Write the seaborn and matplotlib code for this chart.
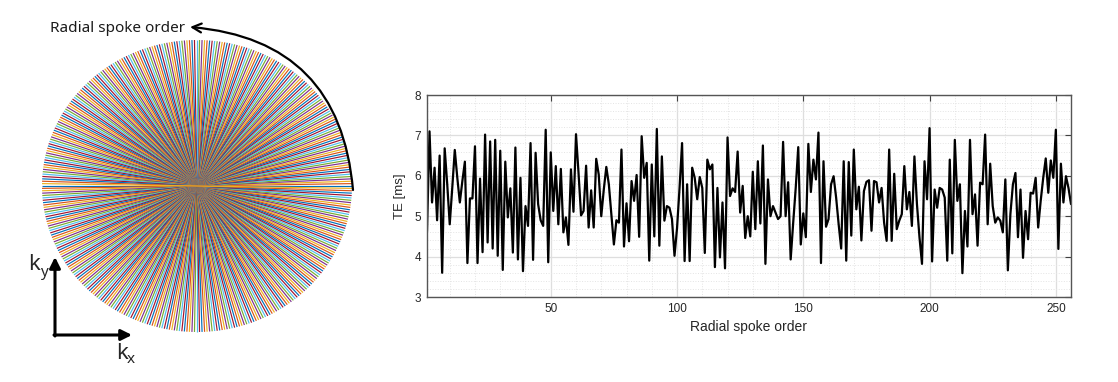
import numpy as np
import pandas as pd
import matplotlib
matplotlib.use("Agg")
import matplotlib.pyplot as plt
import seaborn as sns
from matplotlib.collections import LineCollection
from matplotlib.ticker import MultipleLocator

# ---------------- data ----------------
n_diagram_spokes = 192
spoke_order = list(range(1, 257))
te_ms = [
    4.62, 7.10, 5.34, 6.20, 4.90, 6.50, 3.60, 6.68, 5.80, 4.80,
    5.70, 6.64, 5.95, 5.34, 5.87, 6.35, 3.84, 5.44, 5.44, 6.73,
    3.84, 5.93, 4.11, 7.02, 4.35, 6.85, 4.20, 6.89, 4.02, 6.62,
    3.67, 6.35, 4.97, 5.69, 4.10, 6.70, 3.93, 5.95, 3.64, 5.25,
    4.76, 6.81, 3.92, 6.57, 5.30, 4.90, 4.76, 7.14, 3.86, 6.58,
    5.13, 6.24, 4.80, 6.17, 4.60, 4.97, 4.29, 6.16, 5.11, 7.03,
    6.07, 5.02, 5.13, 6.25, 4.72, 5.64, 4.72, 6.42, 6.03, 5.00,
    5.66, 6.22, 5.79, 5.05, 4.30, 4.90, 4.84, 6.65, 4.25, 5.32,
    4.38, 5.87, 5.38, 6.02, 4.49, 6.98, 5.95, 6.32, 3.90, 6.28,
    4.50, 7.16, 4.27, 6.48, 4.89, 5.25, 5.21, 4.93, 4.02, 4.70,
    5.70, 6.81, 3.89, 5.79, 3.89, 6.20, 5.95, 5.42, 5.97, 5.70,
    4.09, 6.40, 6.16, 6.28, 3.74, 5.70, 3.98, 5.34, 3.71, 6.95,
    5.50, 5.69, 5.60, 6.60, 5.09, 5.75, 4.46, 5.00, 4.50, 6.10,
    4.68, 6.36, 4.82, 6.75, 3.82, 5.91, 5.00, 5.25, 5.09, 4.93,
    5.00, 6.84, 5.00, 5.84, 3.93, 4.84, 5.70, 6.71, 4.30, 5.07,
    4.48, 6.79, 5.60, 6.40, 5.91, 7.07, 3.84, 6.36, 4.74, 4.93,
    5.79, 5.99, 5.46, 4.80, 4.20, 6.36, 3.90, 6.34, 4.52, 6.65,
    5.17, 5.73, 4.40, 5.62, 5.85, 5.89, 4.64, 5.87, 5.84, 5.34,
    5.70, 4.84, 4.39, 6.65, 4.39, 6.05, 4.68, 4.89, 5.05, 6.24,
    5.17, 5.60, 4.76, 6.48, 5.30, 4.48, 3.82, 6.36, 5.42, 7.18,
    3.88, 5.66, 5.21, 5.70, 5.66, 5.46, 3.90, 6.40, 4.08, 6.89,
    5.38, 5.79, 3.59, 5.13, 4.25, 6.89, 5.05, 5.54, 4.27, 5.83,
    5.79, 7.02, 4.80, 6.30, 5.25, 4.84, 4.97, 4.89, 4.60, 5.91,
    3.66, 5.05, 5.79, 6.07, 4.48, 5.66, 3.97, 5.13, 4.43, 5.58,
    5.56, 5.95, 4.72, 5.38, 5.95, 6.43, 5.58, 6.38, 5.95, 7.14,
    4.19, 6.30, 5.34, 5.99, 5.70, 5.30,
]
spoke_colors = ["#0072BD", "#D95319", "#EDB120", "#7E2F8E",
                "#77AC30", "#4DBEEE", "#A2142F"]
x_ticks = [50, 100, 150, 200, 250]
y_ticks = [3, 4, 5, 6, 7, 8]

# ---------------- style ----------------
sns.set_theme(style="white")
plt.rcParams['font.family'] = ['Liberation Sans', 'DejaVu Sans']

W, H = 1118, 382
fig = plt.figure(figsize=(W / 100, H / 100), dpi=100)

# ---------------- left panel: radial spokes ----------------
axL = fig.add_axes([0, 0, 380 / W, 1])
axL.set_xlim(0, 380)
axL.set_ylim(H, 0)
axL.axis('off')

cx, cy, rx, ry = 197, 186, 155, 146
angles = np.arange(n_diagram_spokes) * np.pi / n_diagram_spokes
segs = [[(cx - rx * np.cos(a), cy + ry * np.sin(a)),
         (cx + rx * np.cos(a), cy - ry * np.sin(a))] for a in angles]
cols = [spoke_colors[i % len(spoke_colors)] for i in range(n_diagram_spokes)]
axL.add_collection(LineCollection(segs, colors=cols, linewidths=0.85))

axL.annotate("", xy=(190, 27), xytext=(353, 190),
             arrowprops=dict(arrowstyle="->", connectionstyle="arc3,rad=0.42",
                             lw=1.6, color="black", mutation_scale=16,
                             shrinkA=0, shrinkB=0))
axL.text(50, 28, "Radial spoke order", fontsize=11, family=['Noto Sans', 'DejaVu Sans'],
         color="#1a1a1a", ha="left", va="center")

# k-space axes arrows
axL.annotate("", xy=(55, 257), xytext=(55, 336),
             arrowprops=dict(arrowstyle="-|>", lw=2.2, color="black",
                             mutation_scale=16, shrinkA=0, shrinkB=0))
axL.annotate("", xy=(132, 335), xytext=(54, 335),
             arrowprops=dict(arrowstyle="-|>", lw=2.2, color="black",
                             mutation_scale=16, shrinkA=0, shrinkB=0))
kfont = ['Noto Sans', 'DejaVu Sans']
axL.text(28, 270, "k", fontsize=16, family=kfont, ha="left", va="baseline")
axL.text(40, 276, "y", fontsize=11, family=kfont, ha="left", va="baseline")
axL.text(116, 359, "k", fontsize=16, family=kfont, ha="left", va="baseline")
axL.text(127, 363, "x", fontsize=11, family=kfont, ha="left", va="baseline")

# ---------------- right panel: TE vs spoke order ----------------
axR = fig.add_axes([427 / W, 1 - 297 / H, (1071 - 427) / W, (297 - 95) / H])
df = pd.DataFrame({"order": spoke_order, "te": te_ms})
sns.lineplot(data=df, x="order", y="te", ax=axR, color="black", linewidth=1.6)
axR.set_xlim(1, 256)
axR.set_ylim(3, 8)
axR.set_xticks(x_ticks)
axR.set_yticks(y_ticks)
axR.xaxis.set_minor_locator(MultipleLocator(10))
axR.yaxis.set_minor_locator(MultipleLocator(0.2))
axR.grid(True, which='major', color='#dedede', linewidth=0.9)
axR.grid(True, which='minor', color='#e4e4e4', linestyle=':', linewidth=0.7)
axR.set_axisbelow(True)
axR.tick_params(which='major', direction='in', length=4, width=0.8,
                top=True, right=True, colors='#404040', labelsize=8.5,
                labelcolor='#262626', pad=4)
axR.tick_params(which='minor', length=0)
for s in axR.spines.values():
    s.set_color('#555555')
    s.set_linewidth(1.0)
axR.set_xlabel("Radial spoke order", fontsize=10, color='#262626', labelpad=4)
axR.set_ylabel("TE [ms]", fontsize=9.5, color='#262626', labelpad=6)

fig.savefig("out.png", dpi=100)
